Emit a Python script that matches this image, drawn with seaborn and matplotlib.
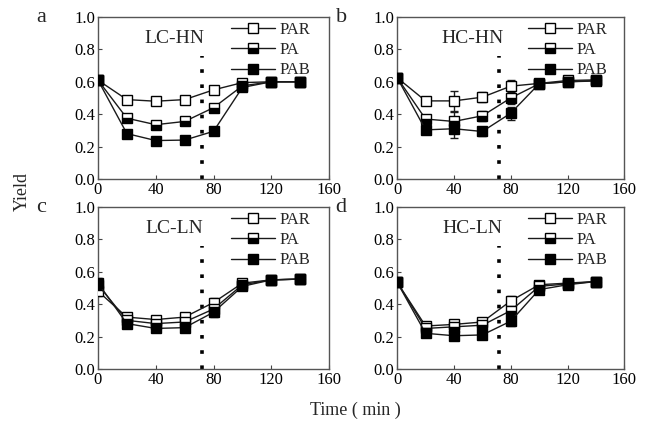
import matplotlib
matplotlib.use("Agg")
import matplotlib.pyplot as plt
import seaborn as sns
import numpy as np

# ==========================
# DATA
# ==========================
time = [0, 20, 40, 60, 80, 100, 120, 140]
series = ["PAR", "PA", "PAB"]
panels = ["LC-HN", "HC-HN", "LC-LN", "HC-LN"]
letters = ["a", "b", "c", "d"]

lchn_par = [0.61, 0.49, 0.48, 0.49, 0.55, 0.595, 0.60, 0.60]
lchn_pa = [0.61, 0.375, 0.335, 0.355, 0.44, 0.575, 0.60, 0.60]
lchn_pab = [0.61, 0.28, 0.237, 0.24, 0.294, 0.565, 0.60, 0.60]
lchn_err = [0.015, 0.02, 0.015, 0.02, 0.02, 0.02, 0.015, 0.015]

hchn_par = [0.625, 0.482, 0.482, 0.505, 0.573, 0.59, 0.608, 0.612]
hchn_pa = [0.625, 0.37, 0.355, 0.39, 0.50, 0.588, 0.60, 0.608]
hchn_pab = [0.625, 0.303, 0.31, 0.293, 0.406, 0.588, 0.60, 0.605]
hchn_err = [0.015, 0.02, 0.06, 0.03, 0.04, 0.02, 0.02, 0.015]

lcln_par = [0.48, 0.32, 0.305, 0.32, 0.41, 0.53, 0.55, 0.555]
lcln_pa = [0.52, 0.30, 0.28, 0.29, 0.37, 0.52, 0.55, 0.555]
lcln_pab = [0.53, 0.28, 0.25, 0.255, 0.35, 0.51, 0.55, 0.555]
lcln_err = [0.03, 0.02, 0.02, 0.02, 0.03, 0.015, 0.01, 0.01]

hcln_par = [0.535, 0.265, 0.275, 0.29, 0.42, 0.52, 0.53, 0.54]
hcln_pa = [0.535, 0.25, 0.26, 0.27, 0.36, 0.51, 0.525, 0.54]
hcln_pab = [0.535, 0.22, 0.205, 0.21, 0.295, 0.49, 0.52, 0.54]
hcln_err = [0.01, 0.02, 0.025, 0.02, 0.03, 0.02, 0.015, 0.01]

data = [
    (lchn_par, lchn_pa, lchn_pab, lchn_err),
    (hchn_par, hchn_pa, hchn_pab, hchn_err),
    (lcln_par, lcln_pa, lcln_pab, lcln_err),
    (hcln_par, hcln_pa, hcln_pab, hcln_err),
]

# ==========================
# STYLE
# ==========================
sns.set_theme(style="ticks")
plt.rcParams["font.family"] = ["Liberation Serif", "DejaVu Serif"]
plt.rcParams["mathtext.fontset"] = "stix"

fig = plt.figure(figsize=(6.49, 4.26), dpi=100)

# axes boxes in figure fraction (left, bottom, width, height)
boxes = [
    (0.151, 0.580, 0.356, 0.380),
    (0.612, 0.580, 0.350, 0.380),
    (0.151, 0.134, 0.356, 0.380),
    (0.612, 0.134, 0.350, 0.380),
]

marker_styles = [
    dict(fillstyle="full", markerfacecolor="white"),
    dict(fillstyle="bottom", markerfacecolor="black", markerfacecoloralt="white"),
    dict(fillstyle="full", markerfacecolor="black"),
]

line_col = "#1a1a1a"

for i, box in enumerate(boxes):
    ax = fig.add_axes(box)
    par, pa, pab, err = data[i]
    for name, ys, ms in zip(series, [par, pa, pab], marker_styles):
        ax.errorbar(time, ys, yerr=err, fmt="none", ecolor=line_col,
                    elinewidth=1.0, capsize=3, capthick=1.0, zorder=2)
        sns.lineplot(x=time, y=ys, ax=ax, color=line_col, linewidth=1.0,
                     marker="s", markersize=7, markeredgecolor="black",
                     markeredgewidth=1.0, label=name, zorder=3, **ms)

    ax.axvline(72, ymin=0, ymax=0.76, color="black", linestyle=(0, (1, 3.2)),
               linewidth=2.6, zorder=1)

    ax.set_xlim(0, 160)
    ax.set_ylim(0, 1.0)
    ax.set_xticks([0, 40, 80, 120, 160])
    ax.set_yticks([0.0, 0.2, 0.4, 0.6, 0.8, 1.0])
    ax.set_yticklabels(["0.0", "0.2", "0.4", "0.6", "0.8", "1.0"])
    ax.tick_params(direction="in", length=3, width=0.8, labelsize=12,
                   colors="#444444", labelcolor="black", pad=2)
    for s in ax.spines.values():
        s.set_color("#555555")
        s.set_linewidth(1.0)
    ax.set_xlabel("")
    ax.set_ylabel("")

    ax.text(0.33, 0.87, panels[i], transform=ax.transAxes, ha="center",
            va="center", fontsize=14)

    ax.legend(loc="upper left", bbox_to_anchor=(0.555, 1.0), frameon=False,
              fontsize=12, handlelength=2.6, handletextpad=0.3,
              labelspacing=0.25, borderaxespad=0.1, borderpad=0.2)

    ax.text(box[0] - 0.095, box[1] + box[3], letters[i], transform=fig.transFigure,
            ha="left", va="center", fontsize=16)

fig.text(0.034, 0.55, "Yield", rotation=90, ha="center", va="center", fontsize=13)
fig.text(0.547, 0.037, "Time ( min )", ha="center", va="center", fontsize=13)

plt.savefig("out.png", dpi=100)
